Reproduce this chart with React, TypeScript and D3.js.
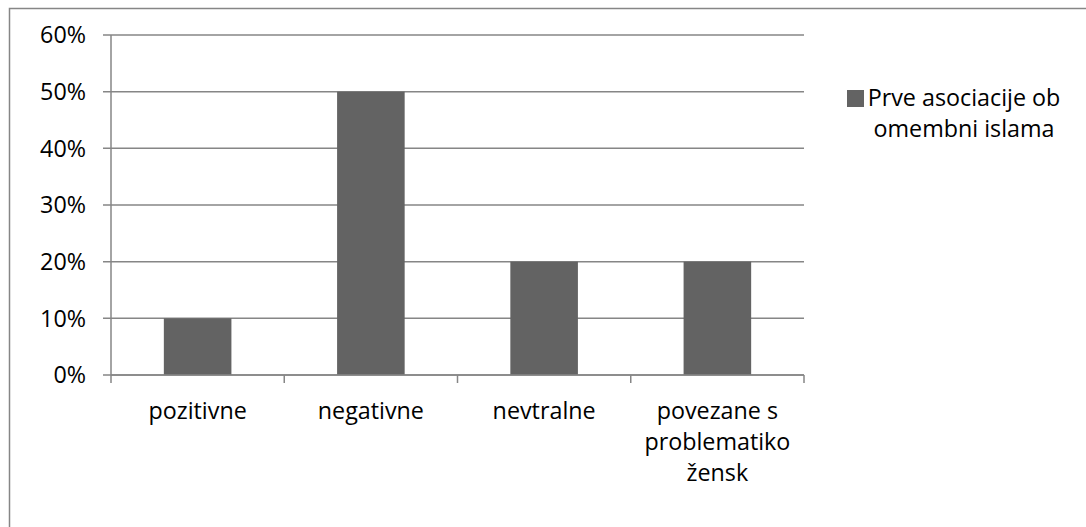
import React, { useEffect, useRef } from "react";
import * as d3 from "d3";

const categories = ["pozitivne", "negativne", "nevtralne", "povezane s problematiko žensk"];
const values = [0.1, 0.5, 0.2, 0.2];
const seriesName = "Prve asociacije ob omembni islama";
const yTicks = [0, 0.1, 0.2, 0.3, 0.4, 0.5, 0.6];

const W = 1086;
const H = 527;
const FONT = "'Open Sans', sans-serif";
const FS = 23.3;

export default function App() {
  const ref = useRef<SVGSVGElement>(null);

  useEffect(() => {
    const svg = d3.select(ref.current);
    svg.selectAll("*").remove();

    const left = 111, right = 804, top = 35, bottom = 375;

    svg.append("rect")
      .attr("x", 9.5).attr("y", 8.5)
      .attr("width", W + 20).attr("height", H + 20)
      .attr("fill", "#fff").attr("stroke", "#868686").attr("stroke-width", 1.5);

    const x = d3.scaleBand<string>().domain(categories).range([left, right]).padding(0);
    const y = d3.scaleLinear().domain([0, 0.6]).range([bottom, top]);

    svg.append("g").selectAll("line").data(yTicks).join("line")
      .attr("x1", left - 8).attr("x2", right)
      .attr("y1", d => y(d)).attr("y2", d => y(d))
      .attr("stroke", "#868686").attr("stroke-width", 1.5);

    svg.append("g").selectAll("text").data(yTicks).join("text")
      .attr("x", 86).attr("y", d => y(d)).attr("dy", "0.36em")
      .attr("text-anchor", "end")
      .attr("font-family", FONT).attr("font-size", FS).attr("fill", "#000")
      .text(d => d3.format(".0%")(d));

    const bw = x.bandwidth() * 0.39;
    svg.append("g").selectAll("rect").data(categories).join("rect")
      .attr("x", d => (x(d) as number) + x.bandwidth() / 2 - bw / 2)
      .attr("width", bw)
      .attr("y", (d, i) => y(values[i]))
      .attr("height", (d, i) => bottom - y(values[i]))
      .attr("fill", "#636363");

    svg.append("line").attr("x1", left).attr("x2", left).attr("y1", top).attr("y2", bottom)
      .attr("stroke", "#868686").attr("stroke-width", 1.5);
    svg.append("line").attr("x1", left).attr("x2", right).attr("y1", bottom).attr("y2", bottom)
      .attr("stroke", "#868686").attr("stroke-width", 1.5);
    const xt = categories.map(c => x(c) as number).concat([right]);
    svg.append("g").selectAll("line").data(xt).join("line")
      .attr("x1", d => d).attr("x2", d => d).attr("y1", bottom).attr("y2", bottom + 8)
      .attr("stroke", "#868686").attr("stroke-width", 1.5);

    const maxW = x.bandwidth() - 10;
    categories.forEach(c => {
      const t = svg.append("text")
        .attr("text-anchor", "middle")
        .attr("font-family", FONT).attr("font-size", FS).attr("fill", "#000");
      const cx = (x(c) as number) + x.bandwidth() / 2;
      const words = c.split(" ");
      const lines: string[] = [];
      let cur = "";
      const probe = svg.append("text").attr("font-family", FONT).attr("font-size", FS);
      words.forEach(w => {
        const test = cur ? cur + " " + w : w;
        probe.text(test);
        const len = (probe.node() as SVGTextElement).getComputedTextLength();
        if (len > maxW && cur) { lines.push(cur); cur = w; } else cur = test;
      });
      if (cur) lines.push(cur);
      probe.remove();
      lines.forEach((l, i) => {
        t.append("tspan").attr("x", cx).attr("y", 419 + i * 31).text(l);
      });
    });

    svg.append("rect").attr("x", 847).attr("y", 90).attr("width", 17).attr("height", 17).attr("fill", "#636363");
    const legLines = [seriesName.split(" ").slice(0, 3).join(" "), seriesName.split(" ").slice(3).join(" ")];
    svg.append("g").selectAll("text").data(legLines).join("text")
      .attr("x", 964).attr("y", (d, i) => 106 + i * 31)
      .attr("text-anchor", "middle")
      .attr("font-family", FONT).attr("font-size", FS).attr("fill", "#000")
      .text(d => d);
  }, []);

  return (
    <svg ref={ref} width={W} height={H} style={{ position: "absolute", left: 0, top: 0, display: "block" }} />
  );
}
